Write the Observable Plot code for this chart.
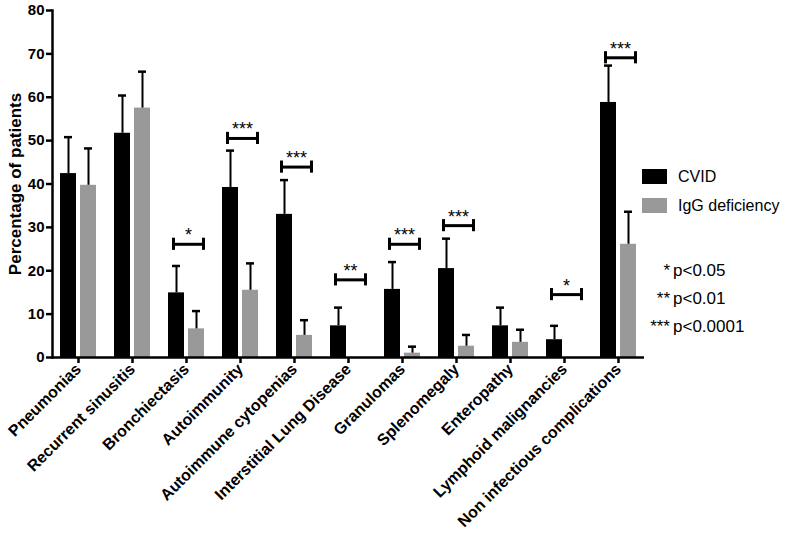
<!DOCTYPE html>
<html><head><meta charset="utf-8">
<script src="https://cdn.jsdelivr.net/npm/d3@7"></script>
<script src="https://cdn.jsdelivr.net/npm/@observablehq/plot@0.6"></script>
<style>
body{margin:0;background:#fff;font-family:Arial,"Liberation Sans",Helvetica,sans-serif;}
#wrap{position:relative;width:786px;height:535px;overflow:hidden;}
#chart{position:absolute;left:0;top:0;}
.sw{position:absolute;width:25px;height:15px;}
.leg{position:absolute;font-size:16px;line-height:18px;color:#000;white-space:nowrap;}
.pv{position:absolute;font-size:17px;line-height:20px;color:#000;white-space:nowrap;}
svg g[aria-label="y-axis label"] text{font-size:17px;}
</style></head><body>
<div id="wrap"><div id="chart"></div></div>
<script>
const categories = ["Pneumonias","Recurrent sinusitis","Bronchiectasis","Autoimmunity","Autoimmune cytopenias","Interstitial Lung Disease","Granulomas","Splenomegaly","Enteropathy","Lymphoid malignancies","Non infectious complications"];
const series = ["CVID","IgG deficiency"];
const colors = ["#000000","#999999"];
const cvid    = [42.4, 51.7, 14.9, 39.2, 33.0, 7.3, 15.7, 20.5, 7.3, 4.1, 58.8];
const cvidErr = [50.8, 60.4, 21.1, 47.7, 40.9, 11.5, 22.0, 27.4, 11.5, 7.3, 67.3];
const igg     = [39.7, 57.5, 6.6, 15.5, 5.1, 0, 1.0, 2.6, 3.5, 0, 26.1];
const iggErr  = [48.2, 65.9, 10.7, 21.7, 8.6, null, 2.5, 5.2, 6.4, null, 33.6];
const sigCats   = ["Bronchiectasis","Autoimmunity","Autoimmune cytopenias","Interstitial Lung Disease","Granulomas","Splenomegaly","Lymphoid malignancies","Non infectious complications"];
const sigLabels = ["*","***","***","**","***","***","*","***"];
const sigY      = [26.1, 50.5, 43.9, 17.9, 26.1, 30.4, 14.5, 69.1];
const yTicks = [0,10,20,30,40,50,60,70,80];
const pStars = ["*","**","***"];
const pTexts = ["p<0.05","p<0.01","p<0.0001"];

const rows = categories.map((c,i)=>({cat:c, cvid:cvid[i], cvidErr:cvidErr[i], igg:igg[i], iggErr:iggErr[i]}));
const grayRows = rows.filter(d=>d.igg>0 && d.iggErr!=null);
const sig = sigCats.map((c,i)=>({cat:c, label:sigLabels[i], y:sigY[i]}));

const plot = Plot.plot({
  width: 786, height: 535,
  marginLeft: 52, marginRight: 142, marginTop: 10, marginBottom: 178,
  style: {fontFamily: "Arial, 'Liberation Sans', Helvetica, sans-serif", color: "#000", background: "#fff", overflow: "visible"},
  x: {domain: categories, paddingInner: 0.34, paddingOuter: 0.1},
  y: {domain: [0, 80]},
  marks: [
    Plot.barY(rows, {x:"cat", y:"cvid", fill: colors[0], insetRight: 20}),
    Plot.barY(grayRows, {x:"cat", y:"igg", fill: colors[1], insetLeft: 20}),
    Plot.ruleX(rows, {x:"cat", y1:"cvid", y2:"cvidErr", dx:-10, stroke:"#000", strokeWidth:2}),
    Plot.tickY(rows, {x:"cat", y:"cvidErr", insetLeft:4, insetRight:24, stroke:"#000", strokeWidth:2.5}),
    Plot.ruleX(grayRows, {x:"cat", y1:"igg", y2:"iggErr", dx:10, stroke:"#000", strokeWidth:2}),
    Plot.tickY(grayRows, {x:"cat", y:"iggErr", insetLeft:24, insetRight:4, stroke:"#000", strokeWidth:2.5}),
    Plot.tickY(sig, {x:"cat", y:"y", insetLeft:5, insetRight:1, stroke:"#000", strokeWidth:3}),
    Plot.ruleX(sig, {x:"cat", y1:d=>d.y-1.4, y2:d=>d.y+1.4, dx:-13, stroke:"#000", strokeWidth:3}),
    Plot.ruleX(sig, {x:"cat", y1:d=>d.y-1.4, y2:d=>d.y+1.4, dx:17, stroke:"#000", strokeWidth:3}),
    Plot.text(sig, {x:"cat", y:"y", text:"label", dx:2, dy:-3, lineAnchor:"bottom", fontSize:18, fill:"#000"}),
    Plot.ruleY([0], {stroke:"#000", strokeWidth:2.5}),
    Plot.frame({anchor:"left", stroke:"#000", strokeWidth:2.5}),
    Plot.axisX({tickRotate:-45, tickSize:6, tickPadding:3, fontSize:16, fontWeight:"bold", strokeWidth:2.5, label:null}),
    Plot.axisY({ticks: yTicks, tickSize:6, tickPadding:2, fontSize:15, fontWeight:"bold", strokeWidth:2.5,
      label:"Percentage of patients", labelAnchor:"center", labelArrow:"none", labelOffset:44})
  ]
});
const wrap = document.getElementById("wrap");
document.getElementById("chart").appendChild(plot);

// legend
const legTop = [169, 198];
series.forEach((s,i)=>{
  const sw = document.createElement("div");
  sw.className = "sw"; sw.style.left = "642px"; sw.style.top = legTop[i]+"px"; sw.style.background = colors[i];
  wrap.appendChild(sw);
  const t = document.createElement("div");
  t.className = "leg"; t.style.left = "678px"; t.style.top = (legTop[i]-1)+"px"; t.textContent = s;
  wrap.appendChild(t);
});
// p-value key
const pTop = [261, 289, 317];
pStars.forEach((s,i)=>{
  const a = document.createElement("div");
  a.className = "pv"; a.style.right = (786-670)+"px"; a.style.top = pTop[i]+"px"; a.textContent = s;
  wrap.appendChild(a);
  const b = document.createElement("div");
  b.className = "pv"; b.style.left = "673px"; b.style.top = pTop[i]+"px"; b.textContent = pTexts[i];
  wrap.appendChild(b);
});
</script>
</body></html>
